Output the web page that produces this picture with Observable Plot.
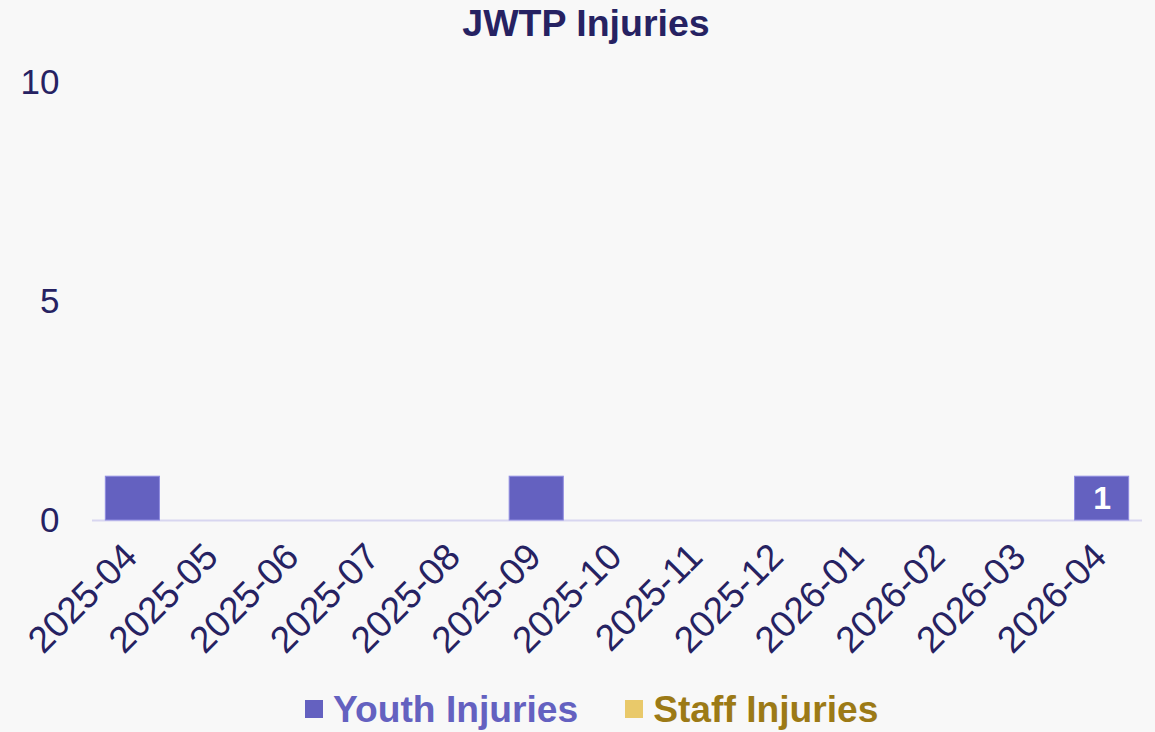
<!DOCTYPE html>
<html><head><meta charset="utf-8">
<script src="https://cdn.jsdelivr.net/npm/d3@7"></script>
<script src="https://cdn.jsdelivr.net/npm/@observablehq/plot@0.6"></script>
<style>
body{margin:0;background:#f8f8f8;font-family:"Liberation Sans",Arial,sans-serif;width:1155px;height:732px;overflow:hidden;position:relative}
#title{height:46px;line-height:46px;text-align:center;font-weight:bold;font-size:37.5px;color:#262262;padding-left:17px}
#chart{height:640px}
#legend{position:absolute;left:305px;top:686px;height:46px;display:flex;align-items:center;font-weight:bold;font-size:37.2px}
.item{display:flex;align-items:center;margin-right:47px}
.sw{width:18px;height:18px;margin-right:10px}
</style></head>
<body>
<div id="title">JWTP Injuries</div>
<div id="chart"></div>
<div id="legend"></div>
<script>
const months = ["2025-04","2025-05","2025-06","2025-07","2025-08","2025-09","2025-10","2025-11","2025-12","2026-01","2026-02","2026-03","2026-04"];
const youth  = [1,0,0,0,0,1,0,0,0,0,0,0,1];
const staff  = [0,0,0,0,0,0,0,0,0,0,0,0,0];
const barLabels = ["","","","","","","","","","","","","1"];
const series = ["Youth Injuries","Staff Injuries"];
const fills = ["#6461c0","#e9c96a"];
const legendText = ["#6461c0","#9c7a16"];
const yTicks = [0,5,10];

const data = months.flatMap((m,i)=>[
  {month:m, series:series[0], value:youth[i], label:barLabels[i]},
  {month:m, series:series[1], value:staff[i], label:""}
]);

const chart = Plot.plot({
  width:1155, height:640,
  marginLeft:92, marginRight:13, marginTop:36, marginBottom:166,
  style:{background:"transparent", color:"#262262", fontFamily:"Liberation Sans, Arial, sans-serif"},
  x:{domain:months, paddingInner:0.33, paddingOuter:0.165, round:false, label:null},
  y:{domain:[0,10], label:null},
  color:{domain:series, range:fills},
  marks:[
    Plot.axisY({ticks:yTicks, tickSize:0, tickPadding:33, fontSize:35, label:null, fill:"#262262"}),
    Plot.axisX({tickSize:0, tickRotate:-45, tickPadding:30, dx:-2, fontSize:37, label:null, fill:"#262262"}),
    Plot.ruleY([0], {stroke:"#d8d6f0", strokeWidth:2}),
    Plot.barY(data.filter(d=>d.value>0), {x:"month", y:"value", fill:"series", stroke:"#8f8ce0", strokeWidth:1}),
    Plot.text(data.filter(d=>d.value>0), Plot.stackY({x:"month", y:"value", z:"series", text:"label", fill:"white", fontWeight:"bold", fontSize:32}))
  ]
});
document.getElementById("chart").appendChild(chart);

const lg = document.getElementById("legend");
series.forEach((s,i)=>{
  const it = document.createElement("div"); it.className="item";
  const sw = document.createElement("div"); sw.className="sw"; sw.style.background=fills[i];
  const tx = document.createElement("span"); tx.textContent=s; tx.style.color=legendText[i];
  it.appendChild(sw); it.appendChild(tx); lg.appendChild(it);
});
</script>
</body></html>
